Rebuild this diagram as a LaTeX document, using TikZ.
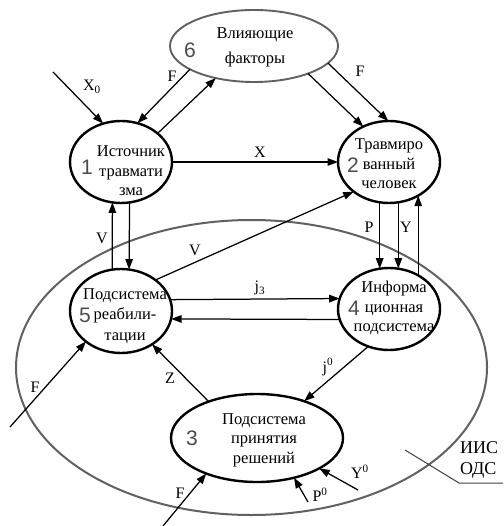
\documentclass[tikz,border=0pt]{standalone}
\usepackage{fontspec}
\setmainfont{Liberation Serif}
\newfontfamily\numfont{Liberation Sans}
\usetikzlibrary{arrows.meta,shapes.geometric}
\tikzset{
  nodeell/.style={ellipse, draw=black, line width=2.4pt, inner sep=0pt, outer sep=0pt},
  grayell/.style={ellipse, draw=black!62, line width=1.9pt, inner sep=0pt, outer sep=0pt},
  txt/.style={align=center, inner sep=0pt, font=\fontsize{16.5}{19.5}\selectfont},
  num/.style={inner sep=0pt, text=black!70, font=\numfont\fontsize{21}{21}\selectfont},
  lab/.style={inner sep=0pt, font=\fontsize{16}{16}\selectfont},
  arr/.style={line width=1.25pt, -{Triangle[length=10.5pt,width=7.5pt]}},
  ln/.style={line width=1pt, draw=black!75}
}
\begin{document}
\begin{tikzpicture}[x=1pt,y=-1pt]
\useasboundingbox (0,0) rectangle (503,526);
% big system boundary
\node[grayell, line width=2pt, minimum width=471pt, minimum height=295pt] (iis) at (251.5,367.5) {};
% subsystem ellipses
\node[grayell, minimum width=168pt, minimum height=72pt] (n6) at (254,46) {};
\node[nodeell, minimum width=102pt, minimum height=82pt] (n1) at (121,162) {};
\node[nodeell, minimum width=102pt, minimum height=82pt] (n2) at (389,162) {};
\node[nodeell, minimum width=102pt, minimum height=84pt] (n5) at (121,311) {};
\node[nodeell, minimum width=102pt, minimum height=82pt] (n4) at (389,309) {};
\node[nodeell, minimum width=172pt, minimum height=88pt] (n3) at (257,438) {};
% texts
\node[txt, font=\fontsize{16.5}{25}\selectfont] (t6) at (255,47.5) {Влияющие\\факторы};
\node[num] (d6) at (190,50) {6};
\node[txt] (t1) at (131,171) {Источник\\травмати\\зма};
\node[num] (d1) at (87,167) {1};
\node[txt] (t2) at (389,164) {Травмиро\\ванный\\человек};
\node[num] (d2) at (353,165) {2};
\node[txt, font=\fontsize{16.5}{20.5}\selectfont] (t5) at (125,316) {Подсистема\\реабили-\\тации};
\node[num] (d5) at (85,315) {5};
\node[txt] (t4) at (394,308) {Информа\\ционная\\подсистема};
\node[num] (d4) at (354,308) {4};
\node[txt] (t3) at (264,440) {Подсистема\\принятия\\решений};
\node[num] (d3) at (192,438) {3};
% free ends
\coordinate (x0s) at (53,72);
\coordinate (f5s) at (10,427);
\coordinate (f3s) at (163,526);
\coordinate (p0s) at (308,502);
\coordinate (y0s) at (358,490);
% connectors
\draw[arr] (x0s) -- (n1.115);
\draw[arr] (n6.200) -- (n1.67.5);
\draw[arr] (n1.38) -- (n6.220);
\draw[arr] (n1.east) -- (n2.west);
\draw[arr] (n6.-27.4) -- (n2.126.1);
\draw[arr] (n6.-13.1) -- (n2.91.3);
\draw[arr] (n5.42.5) -- (n2.220);
\draw[arr] (n5.102.28) -- (n1.-102.57);
\draw[arr] (n1.-78.82) -- (n5.79.08);
\draw[arr] (n2.-103.97) -- (n4.103.97);
\draw[arr] (n2.-77.43) -- (n4.77.43);
\draw[arr] (n4.49.31) -- (n2.-49.31);
\draw[arr] (n5.13.8) -- (n4.168.57);
\draw[arr] (n4.-168.57) -- (n5.-9.08);
\draw[arr] (n4.241.2) -- (n3.38.66);
\draw[arr] (n3.143.8) -- (n5.-47.6);
\draw[arr] (f5s) -- (n5.221.6);
\draw[arr] (f3s) -- (n3.215.4);
\draw[arr] (p0s) -- (n3.-47.9);
\draw[arr] (y0s) -- (n3.-26.2);
% labels
\node[lab] (lx0) at (92,87) {X\textsubscript{0}};
\node[lab] (lf1) at (172,76) {F};
\node[lab] (lx) at (260,152) {X};
\node[lab] (lf2) at (360,71) {F};
\node[lab] (lv1) at (102,238) {V};
\node[lab] (lv2) at (195,250) {V};
\node[lab] (lp) at (369,227) {P};
\node[lab] (ly) at (406,227) {Y};
\node[lab] (lj3) at (260,288) {j\textsubscript{3}};
\node[lab] (lj0) at (328,367) {j\textsuperscript{0}};
\node[lab] (lz) at (170,378) {Z};
\node[lab] (lf5) at (35,387) {F};
\node[lab] (lf3) at (180,493) {F};
\node[lab] (lp0) at (320,495) {P\textsuperscript{0}};
\node[lab] (ly0) at (360,472) {Y\textsuperscript{0}};
\node[lab, align=left, font=\fontsize{18}{21}\selectfont] (liis) at (479,460) {ИИС\\ОДС};
% leader line
\coordinate (ld1) at (405,450);
\coordinate (ld2) at (459,483);
\coordinate (ld3) at (503,483);
\draw[ln] (ld1) -- (ld2) -- (ld3);
\end{tikzpicture}
\end{document}
